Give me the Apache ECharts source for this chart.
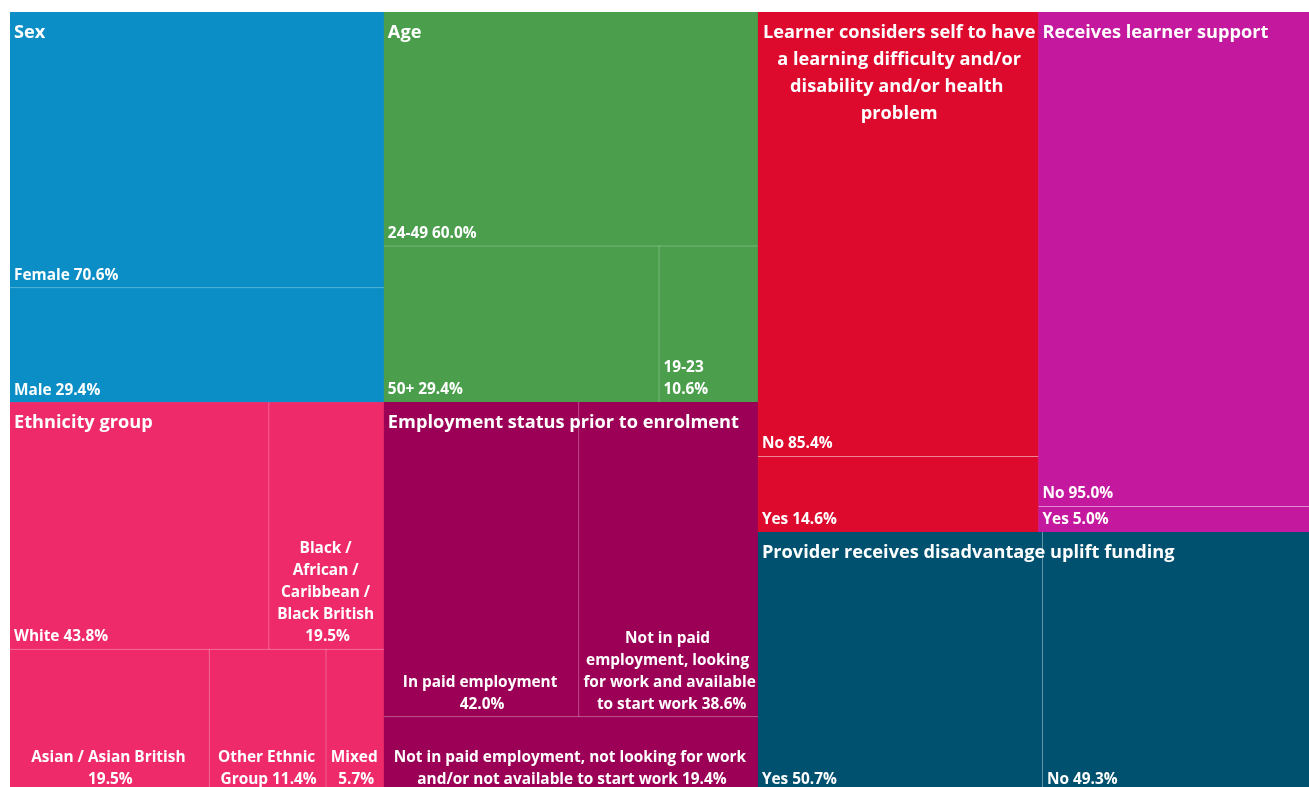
<!DOCTYPE html>
<html>
<head>
<meta charset="utf-8">
<title>Learner characteristics</title>
<script src="https://cdn.jsdelivr.net/npm/echarts@6/dist/echarts.min.js"></script>
<style>
  html, body { margin: 0; padding: 0; background: #fff; }
  #chart { width: 1309px; height: 787px; }
</style>
</head>
<body>
<div id="chart"></div>
<script>
// groups, in the order the treemap lays them out
const groupNames = [
  "Sex",
  "Ethnicity group",
  "Age",
  "Employment status prior to enrolment",
  "Learner considers self to have a learning difficulty and/or disability and/or health problem",
  "Receives learner support",
  "Provider receives disadvantage uplift funding",
];

const sexCategories = ["Female", "Male"];
const sexValues = [70.6, 29.4];

const ethnicityCategories = [
  "White",
  "Black / African / Caribbean / Black British",
  "Asian / Asian British",
  "Other Ethnic Group",
  "Mixed",
];
const ethnicityValues = [43.8, 19.5, 19.5, 11.4, 5.7];

const ageCategories = ["24-49", "50+", "19-23"];
const ageValues = [60.0, 29.4, 10.6];

const employmentCategories = [
  "In paid employment",
  "Not in paid employment, looking for work and available to start work",
  "Not in paid employment, not looking for work and/or not available to start work",
];
const employmentValues = [42.0, 38.6, 19.4];

const lddCategories = ["No", "Yes"];
const lddValues = [85.4, 14.6];

const supportCategories = ["No", "Yes"];
const supportValues = [95.0, 5.0];

const upliftCategories = ["Yes", "No"];
const upliftValues = [50.7, 49.3];

const groupCategories = [sexCategories, ethnicityCategories, ageCategories, employmentCategories, lddCategories, supportCategories, upliftCategories];
const groupValues = [sexValues, ethnicityValues, ageValues, employmentValues, lddValues, supportValues, upliftValues];

// styling
const groupColors = ["#0A8EC5", "#EE2A6B", "#4A9E4C", "#9C0056", "#DD0A2D", "#C4189E", "#00506F"];
const centeredLeaves = new Set([
  "Black / African / Caribbean / Black British",
  "Asian / Asian British",
  "Other Ethnic Group",
  "Mixed",
  "In paid employment",
  "Not in paid employment, looking for work and available to start work",
  "Not in paid employment, not looking for work and/or not available to start work",
]);
const stackedLeaves = new Set(["19-23"]); // value goes on its own line
const centeredHeaders = new Set([groupNames[4]]);
const FONT = "'Open Sans', 'Noto Sans', sans-serif";
const CLEAR = "rgba(0,0,0,0)";

// mix a colour with white, for the thin lines between boxes
const tint = (hex, t) => {
  const n = parseInt(hex.slice(1), 16);
  const c = [(n >> 16) & 255, (n >> 8) & 255, n & 255].map((v) => Math.round(v + (255 - v) * t));
  return `rgb(${c.join(",")})`;
};
const sum = (arr) => arr.reduce((a, b) => a + b, 0);

const leafData = groupNames.map((name, i) => ({
  name,
  itemStyle: { color: groupColors[i], borderColor: tint(groupColors[i], 0.5) },
  children: groupCategories[i].map((cat, j) => {
    const item = {
      name: cat,
      value: groupValues[i][j],
      itemStyle: { borderColor: groupColors[i] },
    };
    if (centeredLeaves.has(cat)) item.label = { position: "insideBottom" };
    return item;
  }),
}));

const headerData = groupNames.map((name, i) => {
  const item = {
    name,
    value: sum(groupValues[i]),
    itemStyle: { color: CLEAR, borderColor: CLEAR },
  };
  if (centeredHeaders.has(name)) item.label = { position: "insideTop" };
  return item;
});

const box = { left: 10, top: 12, width: 1309, height: 780 };

const chart = echarts.init(document.getElementById("chart"));
chart.setOption({
  animation: false,
  series: [
    {
      type: "treemap",
      ...box,
      squareRatio: 1,
      sort: false,
      roam: false,
      nodeClick: false,
      breadcrumb: { show: false },
      levels: [
        { itemStyle: { borderWidth: 0, gapWidth: 0 } },
        { itemStyle: { borderWidth: 0, gapWidth: 1 } },
        { itemStyle: { borderWidth: 0 } },
      ],
      label: {
        show: true,
        position: "insideBottomLeft",
        distance: 0,
        padding: [0, 2, 1, 4],
        color: "#fff",
        fontFamily: FONT,
        fontWeight: "bold",
        fontSize: 15.4,
        lineHeight: 22,
        overflow: "break",
        formatter: (p) =>
          `${p.name}${stackedLeaves.has(p.name) ? "\n" : " "}${p.value.toFixed(1)}%`,
      },
      emphasis: { disabled: true },
      data: leafData,
    },
    {
      // group headers laid over the boxes
      type: "treemap",
      ...box,
      z: 5,
      squareRatio: 1,
      sort: false,
      roam: false,
      nodeClick: false,
      silent: true,
      color: [CLEAR],
      breadcrumb: { show: false },
      levels: [
        { itemStyle: { color: CLEAR, borderColor: CLEAR, borderWidth: 0, gapWidth: 0 } },
        { itemStyle: { color: CLEAR, borderColor: CLEAR, borderWidth: 0 } },
      ],
      label: {
        show: true,
        position: "insideTopLeft",
        distance: 0,
        padding: [7, 2, 0, 4],
        color: "#fff",
        fontFamily: FONT,
        fontWeight: "bold",
        fontSize: 18.2,
        lineHeight: 27,
        overflow: "break",
        formatter: "{b}",
      },
      emphasis: { disabled: true },
      data: headerData,
    },
  ],
});
</script>
</body>
</html>
